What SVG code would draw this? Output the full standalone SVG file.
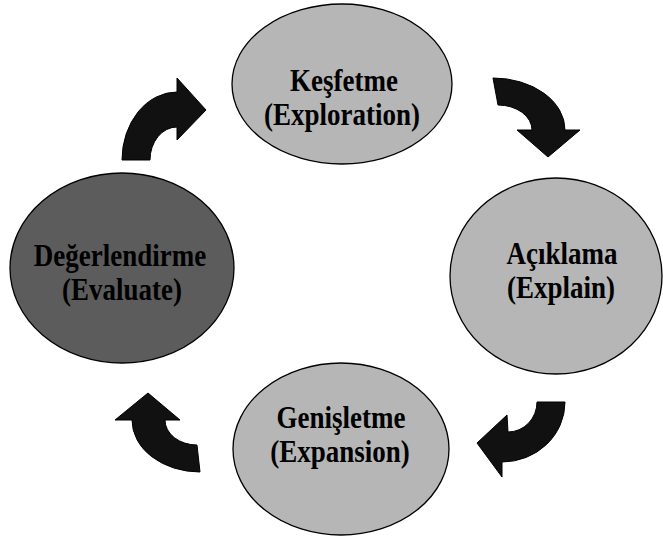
<svg xmlns="http://www.w3.org/2000/svg" width="663" height="537" viewBox="0 0 663 537">
  <style>
    .stage { fill: #b6b6b6; stroke: #000; stroke-width: 1.3; }
    .stage.dark { fill: #5c5c5c; }
    .label { font-family: "Liberation Serif", "Times New Roman", serif; font-weight: bold; font-size: 27px; fill: #000; text-anchor: middle; }
    .turn { fill: #111; stroke: #000; stroke-width: 1; stroke-linejoin: miter; }
  </style>
  <rect width="663" height="537" fill="#fff"/>

  <!-- stage bubbles; labels are set in a tall, narrow serif (stretched vertically) -->
  <g id="explore">
    <ellipse class="stage" cx="342" cy="84" rx="110" ry="80"/>
    <text class="label" transform="translate(344 91) scale(1 1.15)">Keşfetme</text>
    <text class="label" transform="translate(342 125) scale(1 1.15)">(Exploration)</text>
  </g>

  <g id="explain">
    <ellipse class="stage" cx="556" cy="276" rx="106" ry="98"/>
    <text class="label" transform="translate(562 264) scale(1 1.15)">Açıklama</text>
    <text class="label" transform="translate(561 298) scale(1 1.15)">(Explain)</text>
  </g>

  <g id="expand">
    <ellipse class="stage" cx="341" cy="449" rx="108" ry="86"/>
    <text class="label" transform="translate(341 428) scale(1 1.15)">Genişletme</text>
    <text class="label" transform="translate(340 462) scale(1 1.15)">(Expansion)</text>
  </g>

  <g id="evaluate">
    <ellipse class="stage dark" cx="122" cy="268" rx="112" ry="95"/>
    <text class="label" transform="translate(120 266) scale(1 1.15)">Değerlendirme</text>
    <text class="label" transform="translate(122 300) scale(1 1.15)">(Evaluate)</text>
  </g>

  <!-- curved block arrows running clockwise between the stages -->
  <g id="connectors">
    <path class="turn" d="M122,160 A55,68 0 0 1 177,92 L177,78 L206,110 L177,140 L177,127 A27,33 0 0 0 150,160 Z"/>
    <path class="turn" d="M493,78 A72,52 0 0 1 565,130 L580,130 L548,157 L517,130 L532,130 A34,25 0 0 0 498,105 Z"/>
    <path class="turn" d="M537,402 L565,402 A63,60 0 0 1 502,462 L502,477 L477,443 L507,415 L508,432 A29,30 0 0 0 537,402 Z"/>
    <path class="turn" d="M200,472 A68,52 0 0 1 132,420 L115,420 L148,393 L180,420 L165,420 A32,25 0 0 0 197,445 Z"/>
  </g>
</svg>
